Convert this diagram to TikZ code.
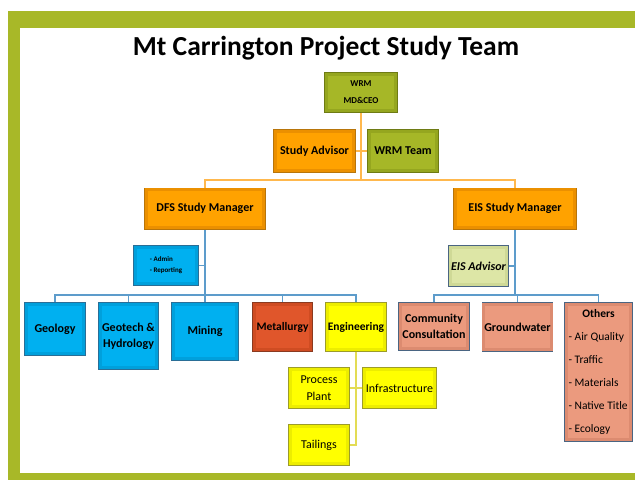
\documentclass[tikz,border=0pt]{standalone}
\usepackage{fontspec}
\setmainfont{Carlito}
\usepackage{xcolor}
\usepackage{tikz}
\usetikzlibrary{shadows,backgrounds}

\definecolor{framegreen}{HTML}{A8B828}
\definecolor{olivefill}{HTML}{A6B727}
\definecolor{oliveband}{HTML}{95A61F}
\definecolor{oliveedge}{HTML}{6E7B14}
\definecolor{orangefill}{HTML}{FFA200}
\definecolor{orangeband}{HTML}{EB9000}
\definecolor{orangeedge}{HTML}{B8750A}
\definecolor{bluefill}{HTML}{00B0F0}
\definecolor{blueband}{HTML}{00A0DC}
\definecolor{blueedge}{HTML}{2A6E96}
\definecolor{redfill}{HTML}{E0562B}
\definecolor{redband}{HTML}{CF4C22}
\definecolor{rededge}{HTML}{8A3A20}
\definecolor{yellowfill}{HTML}{FFFF00}
\definecolor{yellowband}{HTML}{EDED00}
\definecolor{yellowedge}{HTML}{9C9C2A}
\definecolor{salmonfill}{HTML}{EB9A7E}
\definecolor{salmonband}{HTML}{DC8B70}
\definecolor{slateedge}{HTML}{4A6582}
\definecolor{palefill}{HTML}{DDE6A6}
\definecolor{paleband}{HTML}{CFD996}
\definecolor{orangeconn}{HTML}{FFB84D}
\definecolor{blueconn}{HTML}{5D9CCB}
\definecolor{yellowconn}{HTML}{E3DC55}

\tikzset{
  chartbox/.style={rectangle, inner sep=0.5pt, align=center, line width=3pt,
    font=\bfseries\fontsize{12}{16}\selectfont,
    drop shadow={shadow xshift=1.5pt, shadow yshift=-1.5pt, opacity=0.3}},
  olivebox/.style={chartbox, fill=olivefill, draw=oliveband, preaction={draw=oliveedge, line width=4.5pt}},
  orangebox/.style={chartbox, fill=orangefill, draw=orangeband, preaction={draw=orangeedge, line width=4.5pt}},
  bluebox/.style={chartbox, fill=bluefill, draw=blueband, preaction={draw=blueedge, line width=4.5pt}},
  redbox/.style={chartbox, fill=redfill, draw=redband, preaction={draw=rededge, line width=4.5pt}},
  yellowbox/.style={chartbox, fill=yellowfill, draw=yellowband, preaction={draw=yellowedge, line width=4.5pt}},
  salmonbox/.style={chartbox, fill=salmonfill, draw=salmonband, preaction={draw=slateedge, line width=4.5pt}},
  palebox/.style={chartbox, fill=palefill, draw=paleband, preaction={draw=slateedge, line width=4.5pt}},
  orangeline/.style={orangeconn, line width=1.3pt},
  blueline/.style={blueconn, line width=1.3pt},
  yellowline/.style={yellowconn, line width=1.3pt}
}

\begin{document}
\begin{tikzpicture}[x=1pt, y=-1pt]
\useasboundingbox (0,0) rectangle (635,480);

% frame
\fill[framegreen] (8,11) rectangle (635,28);
\fill[framegreen] (8,11) rectangle (20,480);
\fill[framegreen] (8,473) rectangle (635,480);

\node[anchor=base, font=\bfseries\fontsize{27.5}{30}\selectfont] (title) at (326,55) {Mt Carrington Project Study Team};

% top level
\node[olivebox, minimum width=69.5pt, minimum height=36.5pt, font=\bfseries\fontsize{9}{17}\selectfont] (wrm) at (361,92.5) {WRM\\MD\&CEO};
\node[orangebox, minimum width=78.5pt, minimum height=39.5pt] (adv) at (314.5,151) {Study Advisor};
\node[olivebox, minimum width=67.5pt, minimum height=39.5pt] (team) at (403,151) {WRM Team};

% managers
\node[orangebox, minimum width=117.5pt, minimum height=37.5pt] (dfs) at (205,208.5) {DFS Study Manager};
\node[orangebox, minimum width=119.5pt, minimum height=37.5pt] (eis) at (515,208.5) {EIS Study Manager};
\node[bluebox, minimum width=61.5pt, minimum height=36.5pt, align=left, font=\bfseries\fontsize{7}{11}\selectfont] (admin) at (166,265.5) {- Admin\\- Reporting};
\node[palebox, minimum width=56.5pt, minimum height=37.5pt, font=\bfseries\itshape\fontsize{12}{16}\selectfont] (advisor) at (478.5,266) {EIS Advisor};

% DFS studies
\node[bluebox, minimum width=57.5pt, minimum height=49.5pt] (geo) at (55,329) {Geology};
\node[bluebox, minimum width=56.5pt, minimum height=63.5pt] (geotech) at (128.5,336) {Geotech \&\\Hydrology};
\node[bluebox, minimum width=63.5pt, minimum height=54.5pt] (mining) at (205,331.5) {Mining};
\node[redbox, minimum width=56.5pt, minimum height=45.5pt, font=\bfseries\fontsize{11.5}{16}\selectfont] (met) at (282.5,327) {Metallurgy};
\node[yellowbox, minimum width=57.5pt, minimum height=45.5pt, font=\bfseries\fontsize{11.5}{16}\selectfont] (eng) at (356,327) {Engineering};
\node[yellowbox, minimum width=57.5pt, minimum height=37.5pt, font=\fontsize{12}{17}\selectfont] (pp) at (319,388) {Process\\Plant};
\node[yellowbox, minimum width=70.5pt, minimum height=37.5pt, font=\fontsize{12}{17}\selectfont] (infra) at (399.5,388) {Infrastructure};
\node[yellowbox, minimum width=57.5pt, minimum height=37.5pt, font=\fontsize{12}{17}\selectfont] (tail) at (319,445) {Tailings};

% EIS studies
\node[salmonbox, minimum width=67.5pt, minimum height=44.5pt] (cc) at (434,326.5) {Community\\Consultation};
\node[salmonbox, minimum width=66.5pt, minimum height=45.5pt] (gw) at (517.5,327) {Groundwater};
\node[salmonbox, minimum width=64.5pt, minimum height=135.5pt, font=\fontsize{11.5}{23}\selectfont] (oth) at (598.5,372) {\textbf{Others}\\\makebox[60pt][l]{- Air Quality}\\\makebox[60pt][l]{- Traffic}\\\makebox[60pt][l]{- Materials}\\\makebox[60pt][l]{- Native Title}\\\makebox[60pt][l]{- Ecology}};

\coordinate (topbus) at (361,180);
\coordinate (dfsbus) at (205,295);
\coordinate (eisbus) at (515,295);

\begin{scope}[on background layer]
\draw[orangeline] (wrm) -- (topbus);
\draw[orangeline] (adv) -- (team);
\draw[orangeline] (dfs) |- (topbus) -| (eis);
\draw[blueline] (dfs) -- (dfsbus);
\draw[blueline] (admin) -- (admin -| dfs);
\draw[blueline] (geo) |- (dfsbus) -| (eng);
\foreach \n in {geotech,mining,met}
  \draw[blueline] (\n) -- (\n |- dfsbus);
\draw[yellowline] (eng) |- (tail);
\draw[yellowline] (pp) -- (infra);
\draw[blueline] (eis) -- (eisbus);
\draw[blueline] (advisor) -- (advisor -| eis);
\draw[blueline] (cc) |- (eisbus) -| (oth);
\draw[blueline] (gw) -- (gw |- eisbus);
\end{scope}
\end{tikzpicture}
\end{document}
